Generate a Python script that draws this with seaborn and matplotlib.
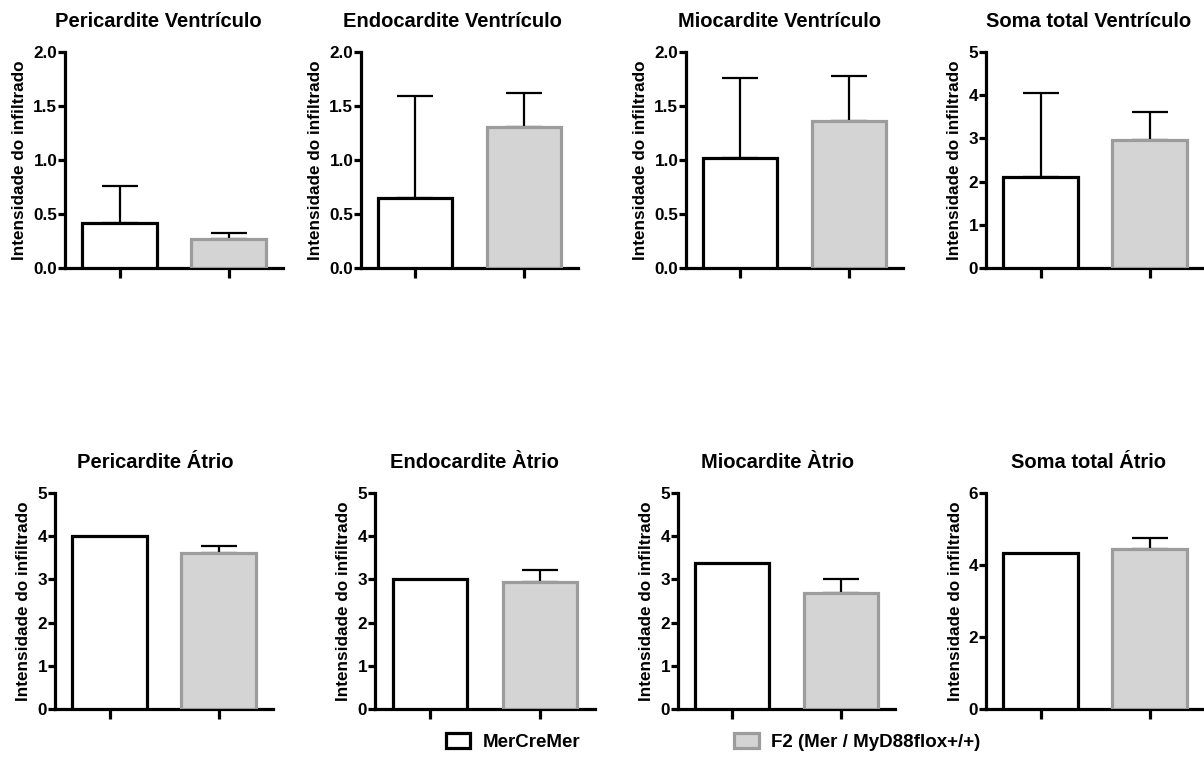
import numpy as np
import pandas as pd
import matplotlib
matplotlib.use("Agg")
import matplotlib.pyplot as plt
from matplotlib.patches import Patch
import seaborn as sns

sns.set_theme(style="ticks")
plt.rcParams['font.family'] = ['Liberation Sans', 'DejaVu Sans']
plt.rcParams['font.weight'] = 'bold'
for k in ['text.color', 'axes.labelcolor', 'xtick.color', 'ytick.color', 'axes.edgecolor']:
    plt.rcParams[k] = 'black'

groups = ["MerCreMer", "F2 (Mer / MyD88flox+/+)"]
titles = ["Pericardite Ventrículo", "Endocardite Ventrículo", "Miocardite Ventrículo",
          "Soma total Ventrículo", "Pericardite Átrio", "Endocardite Àtrio",
          "Miocardite Àtrio", "Soma total Átrio"]
mer_mean = [0.42, 0.645, 1.02, 2.11, 4.00, 3.00, 3.39, 4.32]
mer_err = [0.34, 0.945, 0.74, 1.95, 0.0, 0.0, 0.0, 0.0]
f2_mean = [0.27, 1.31, 1.36, 2.96, 3.60, 2.93, 2.69, 4.44]
f2_err = [0.05, 0.31, 0.42, 0.64, 0.17, 0.28, 0.31, 0.31]
y_max = [2.0, 2.0, 2.0, 5, 5, 5, 5, 6]
y_ticks = [[0.0, 0.5, 1.0, 1.5, 2.0]] * 3 + [[0, 1, 2, 3, 4, 5]] * 4 + [[0, 2, 4, 6]]
y_fmt = ["%.1f"] * 3 + ["%d"] * 5

ylabel = "Intensidade do infiltrado"
fills = ["#ffffff", "#d4d4d4"]
edges = ["#000000", "#9c9c9c"]

W, H = 1204, 779
fig = plt.figure(figsize=(W / 100, H / 100), dpi=100)

# pixel layout: (left, right, top, bottom)
boxes = [(65, 283, 52, 268), (361, 578, 52, 268), (686, 903, 52, 268), (986, 1204, 52, 268),
         (55, 273, 493, 709), (375, 595, 493, 709), (678, 895, 493, 709), (986, 1204, 493, 709)]
title_x = [0.43, 0.42, 0.43, 0.47, 0.46, 0.45, 0.46, 0.47]

lw = 2.3
for i in range(8):
    l, r, t, b = boxes[i]
    ax = fig.add_axes([l / W, 1 - b / H, (r - l) / W, (b - t) / H])
    df = pd.DataFrame({"group": groups, "value": [mer_mean[i], f2_mean[i]]})
    sns.barplot(data=df, x="group", y="value", hue="group", palette=fills,
                errorbar=None, width=0.68, ax=ax, legend=False, zorder=3)
    for p, ec in zip(ax.patches, edges):
        p.set_edgecolor(ec)
        p.set_linewidth(lw)
    means = [mer_mean[i], f2_mean[i]]
    errs = [mer_err[i], f2_err[i]]
    for j in range(2):
        if errs[j] > 0:
            ax.errorbar(j, means[j], yerr=[[0], [errs[j]]], fmt="none", ecolor="black",
                        elinewidth=1.6, capsize=13, capthick=1.6, zorder=2)
    ax.set_xlim(-0.5, 1.5)
    ax.set_ylim(0, y_max[i])
    ax.set_yticks(y_ticks[i])
    ax.set_yticklabels([y_fmt[i] % v for v in y_ticks[i]], fontsize=12.3, fontweight="bold")
    ax.set_xticks([0, 1])
    ax.set_xticklabels([])
    ax.set_xlabel("")
    ax.set_ylabel(ylabel, fontsize=12.3, fontweight="bold", labelpad=4.5)
    ax.set_title(titles[i], fontsize=14.5, fontweight="bold", x=title_x[i], pad=18)
    for s in ["top", "right"]:
        ax.spines[s].set_visible(False)
    for s in ["left", "bottom"]:
        ax.spines[s].set_linewidth(lw)
        ax.spines[s].set_color("black")
    ax.tick_params(axis="y", length=5, width=lw, pad=0.5, colors="black")
    ax.tick_params(axis="x", length=7, width=lw, colors="black")
    ax.set_facecolor("white")

handles = [Patch(facecolor=fills[k], edgecolor=edges[k], linewidth=lw, label=groups[k]) for k in range(2)]
fig.legend(handles=handles, loc="center", bbox_to_anchor=(0.592, 0.048), ncol=2, frameon=False,
           prop={"size": 13.5, "weight": "bold"}, columnspacing=8.2, handlelength=1.33,
           handleheight=0.85, handletextpad=0.64)

fig.savefig("out.png", dpi=100, facecolor="white")
